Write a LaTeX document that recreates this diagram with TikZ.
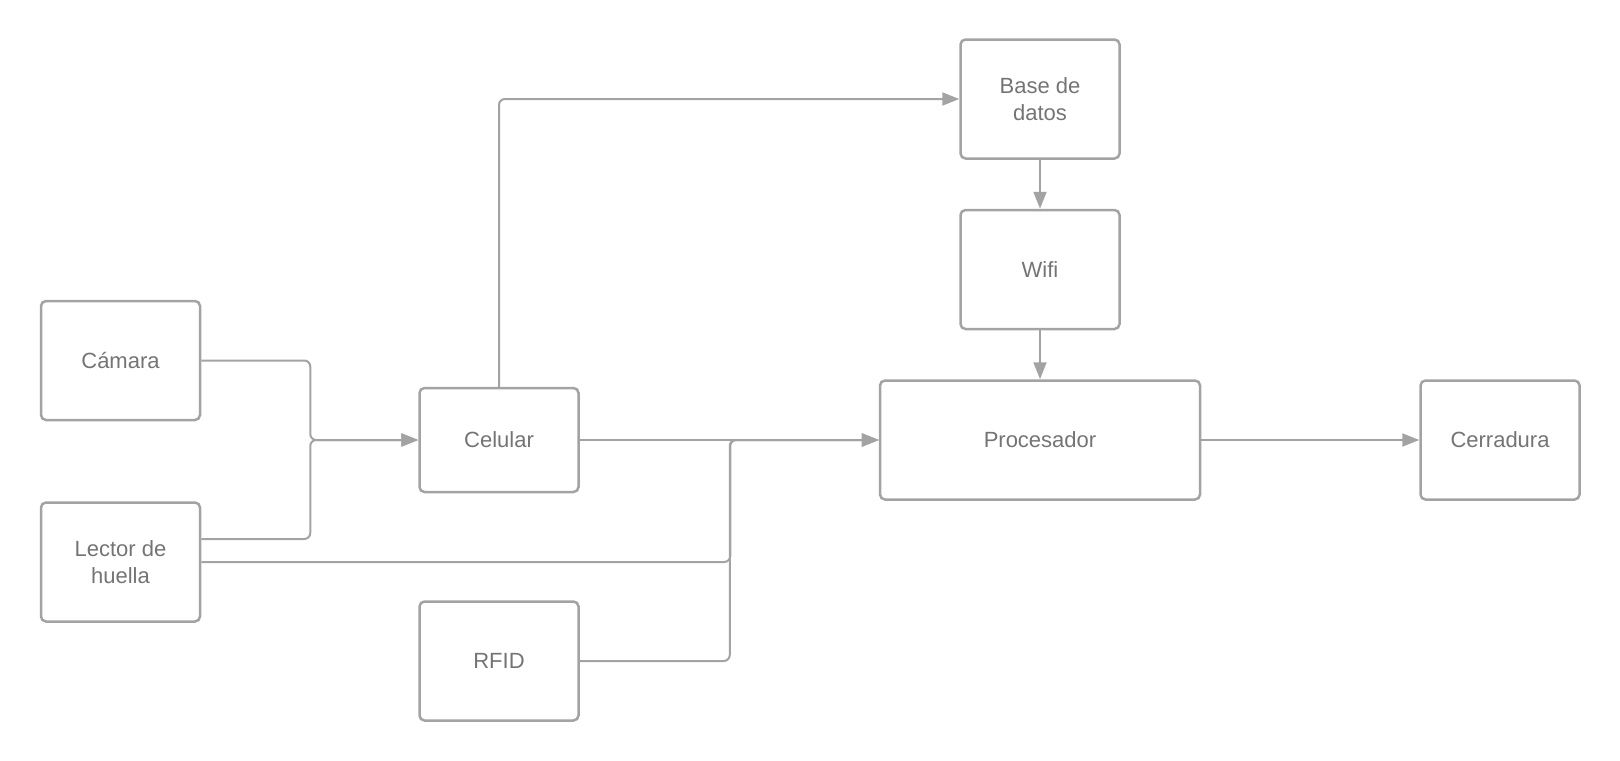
\documentclass[tikz,border=0pt]{standalone}
\usepackage{fontspec}
\setmainfont{Liberation Sans}
\usepackage{xcolor}
\usetikzlibrary{positioning,arrows.meta}
\definecolor{LineGray}{HTML}{A3A3A3}
\definecolor{TextGray}{HTML}{747474}

\begin{document}
\begin{tikzpicture}[>={Triangle[length=8.5pt,width=6.5pt]},
                    block/.style={draw=LineGray, line width=1.25pt, rounded corners=2.5pt,
                                  align=center, minimum width=79.5pt, minimum height=59.5pt,
                                  text=TextGray, font=\fontsize{11}{13.4}\selectfont, inner sep=0pt},
                    link/.style={draw=LineGray, line width=1pt, rounded corners=3pt}]
\useasboundingbox (0,0) rectangle (810pt,-380pt);
\node[block, minimum width=160pt] (proc) at (520pt,-220pt) {Procesador};
\node[block, left=149.5pt of proc, minimum height=52pt] (cel) {Celular};
\node[block, above=24.5pt of proc] (wifi) {Wifi};
\node[block, above=24.5pt of wifi] (base) {Base de\\datos};
\node[block, right=109pt of proc] (cerr) {Cerradura};
\node[block, left=108.5pt of cel, yshift=39.75pt] (cam) {Cámara};
\node[block, below=40pt of cam] (lector) {Lector de\\huella};
\node[block, below=53.5pt of cel] (rfid) {RFID};
\draw[link, ->] (cam.east) -- ++(54.5pt,0) |- (cel.west);
\draw[link, ->] ([yshift=11.5pt]lector.east) -- ++(54.5pt,0) |- (cel.west);
\draw[link, ->] (lector.east) -- ++(264.5pt,0) |- (proc.west);
\draw[link, ->] (rfid.east) -- ++(75pt,0) |- (proc.west);
\draw[link, ->] (cel.east) -- (proc.west);
\draw[link, ->] (cel.north) |- (base.west);
\draw[link, ->] (base) -- (wifi);
\draw[link, ->] (wifi) -- (proc);
\draw[link, ->] (proc) -- (cerr);
\end{tikzpicture}
\end{document}
